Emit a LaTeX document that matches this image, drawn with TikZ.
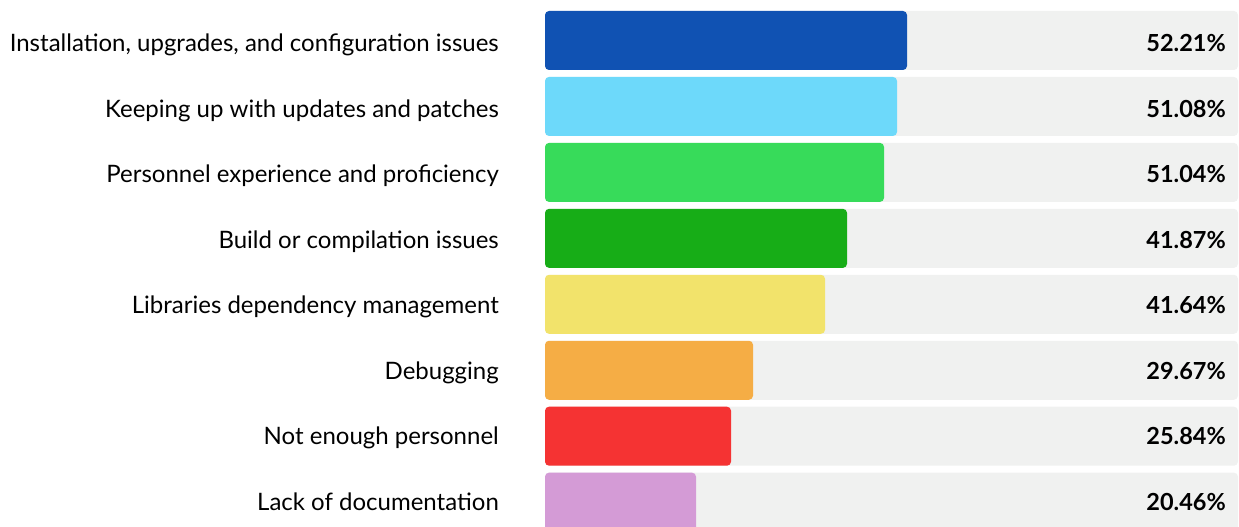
\documentclass[tikz,border=0pt]{standalone}
\usepackage{fontspec}
\setmainfont{Lato}
\definecolor{trackgray}{HTML}{F0F1F0}
\definecolor{cBlue}{HTML}{1052B3}
\definecolor{cSky}{HTML}{6DD9FA}
\definecolor{cGreen}{HTML}{37DB5A}
\definecolor{cDark}{HTML}{17AD17}
\definecolor{cYellow}{HTML}{F2E36B}
\definecolor{cOrange}{HTML}{F5AD45}
\definecolor{cRed}{HTML}{F53333}
\definecolor{cLilac}{HTML}{D49BD6}
\begin{document}
\begin{tikzpicture}[x=1pt, y=-1pt, line join=round,
	track/.style={fill=trackgray, rounded corners=4pt},
	bar/.style={rounded corners=4pt},
	lab/.style={anchor=base east, inner sep=0pt, font=\fontsize{24}{28}\selectfont},
	pct/.style={anchor=base east, inner sep=0pt, font=\fontsize{23.5}{28}\selectfont\bfseries}]
	%Khung hình.
	\useasboundingbox (0,0) rectangle (1239,527);
	\clip (0,0) rectangle (1239,527);
	%Gán số liệu.
	\def\xa{545};\def\xb{1238};\def\h{59};
	%Vẽ các thanh.
	\foreach \i/\xe/\c/\txt/\val in {
		0/907/cBlue/{Installation, upgrades, and configuration issues}/52.21,
		1/897/cSky/{Keeping up with updates and patches}/51.08,
		2/884/cGreen/{Personnel experience and proficiency}/51.04,
		3/847/cDark/{Build or compilation issues}/41.87,
		4/825/cYellow/{Libraries dependency management}/41.64,
		5/753/cOrange/{Debugging}/29.67,
		6/731/cRed/{Not enough personnel}/25.84,
		7/696/cLilac/{Lack of documentation}/20.46}
	{
		\pgfmathsetmacro\yt{11+65.95*\i}
		\pgfmathsetmacro\yb{52+65.43*\i}
		\fill[track] (\xa,\yt) rectangle (\xb,\yt+\h);
		\fill[bar,\c] (\xa,\yt) rectangle (\xe,\yt+\h);
		\node[lab] (lab\i) at (499,\yb) {\txt};
		\node[pct] (val\i) at (1226,\yb) {\val\%};
	}
\end{tikzpicture}
\end{document}
